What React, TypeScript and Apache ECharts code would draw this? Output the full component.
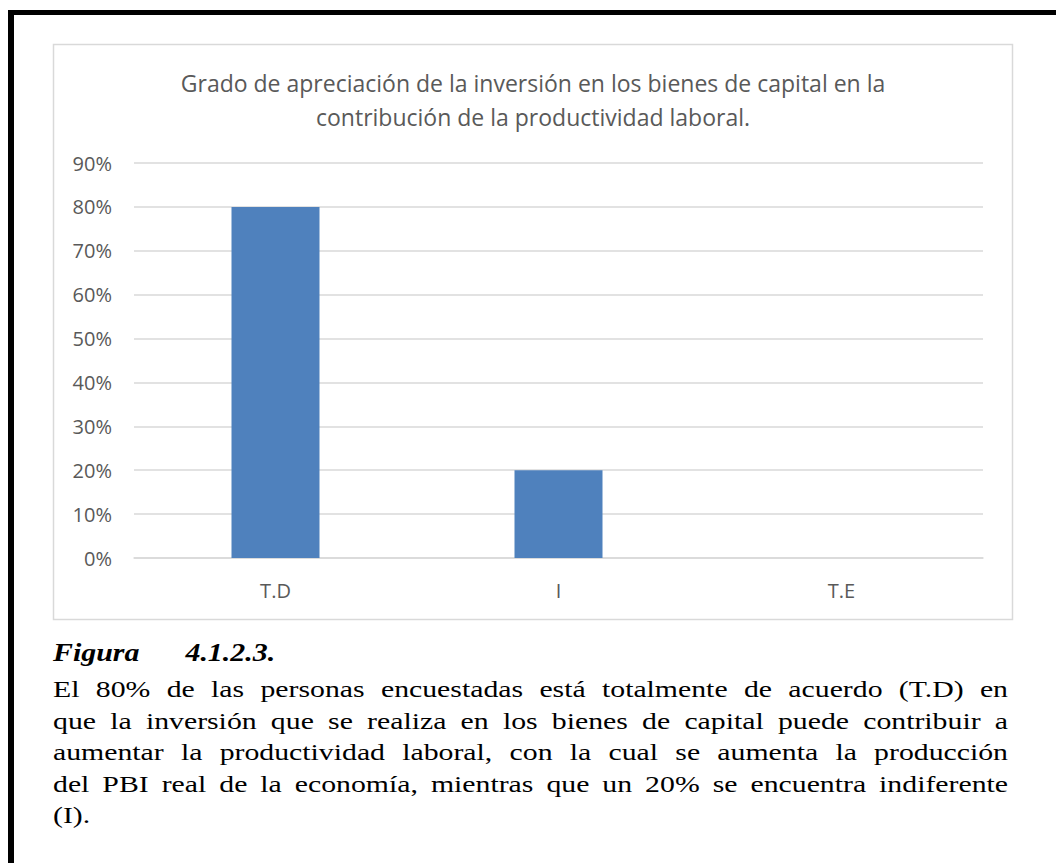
import React, { useEffect, useRef } from "react";
import * as echarts from "echarts";

const categories = ["T.D", "I", "T.E"];
const values = [0.8, 0.2, 0];
const titleLines = [
  "Grado de apreciación de la inversión en los bienes de capital en la",
  "contribución de la productividad laboral.",
];
const figureLabel = "Figura";
const figureNumber = "4.1.2.3.";
const captionLines = [
  "El 80% de las personas encuestadas está totalmente de acuerdo (T.D) en",
  "que la inversión que se realiza en los bienes de capital puede contribuir a",
  "aumentar la productividad laboral, con la cual se aumenta la producción",
  "del PBI real de la economía, mientras que un 20% se encuentra indiferente",
  "(I).",
];

const CAP_SCALE = 1.24;
const CAP_WIDTH = 955;

export default function App() {
  const ref = useRef<HTMLDivElement>(null);

  useEffect(() => {
    document.body.style.margin = "0";
    const chart = echarts.init(ref.current!, null, { renderer: "svg" });
    chart.setOption({
      animation: false,
      backgroundColor: "#ffffff",
      graphic: [
        { type: "rect", shape: { x: 8, y: 10, width: 1048, height: 5 }, style: { fill: "#000" } },
        { type: "rect", shape: { x: 8, y: 10, width: 6, height: 853 }, style: { fill: "#000" } },
        {
          type: "rect",
          shape: { x: 53.5, y: 44.5, width: 959, height: 575 },
          style: { fill: "none", stroke: "#d9d9d9", lineWidth: 1.5 },
        },
        {
          type: "text",
          x: 533,
          y: 83,
          style: {
            text: titleLines[0],
            textAlign: "center",
            textVerticalAlign: "middle",
            fill: "#595959",
            font: "23px 'Open Sans'",
          },
        },
        {
          type: "text",
          x: 533,
          y: 117,
          style: {
            text: titleLines[1],
            textAlign: "center",
            textVerticalAlign: "middle",
            fill: "#595959",
            font: "23px 'Open Sans'",
          },
        },
      ],
      grid: { left: 134, right: 73, top: 163, bottom: 305 },
      xAxis: {
        type: "category",
        data: categories,
        axisTick: { show: false },
        axisLine: { lineStyle: { color: "#d9d9d9", width: 1.5 } },
        axisLabel: { color: "#595959", fontSize: 20, fontFamily: "Open Sans", margin: 22 },
      },
      yAxis: {
        type: "value",
        min: 0,
        max: 0.9,
        interval: 0.1,
        axisLine: { show: false },
        axisTick: { show: false },
        splitLine: { lineStyle: { color: "#d9d9d9", width: 1.5 } },
        axisLabel: {
          color: "#595959",
          fontSize: 20,
          fontFamily: "Open Sans",
          margin: 22,
          formatter: (v: number) => Math.round(v * 100) + "%",
        },
      },
      series: [
        {
          type: "bar",
          data: values,
          barWidth: 88,
          itemStyle: { color: "#4F81BD" },
        },
      ],
    });
    return () => chart.dispose();
  }, []);

  return (
    <div style={{ position: "absolute", left: 0, top: 0, width: 1056, height: 863, overflow: "hidden" }}>
      <div ref={ref} style={{ position: "absolute", left: 0, top: 0, width: 1056, height: 863 }} />
      <div
        style={{
          position: "absolute",
          left: 53,
          top: 635,
          fontFamily: "'Liberation Serif', 'Times New Roman', serif",
          fontSize: 26,
          lineHeight: "36px",
          fontWeight: "bold",
          fontStyle: "italic",
          color: "#000",
          whiteSpace: "nowrap",
          transform: "scaleX(1.15)",
          transformOrigin: "0 0",
        }}
      >
        <span>{figureLabel}</span>
        <span style={{ marginLeft: 40 }}>{figureNumber}</span>
      </div>
      <div
        style={{
          position: "absolute",
          left: 53,
          top: 674,
          width: CAP_WIDTH / CAP_SCALE,
          fontFamily: "'Liberation Serif', 'Times New Roman', serif",
          fontSize: 24,
          lineHeight: "31.6px",
          color: "#000",
          transform: `scaleX(${CAP_SCALE})`,
          transformOrigin: "0 0",
        }}
      >
        {captionLines.map((line, i) => (
          <div
            key={i}
            style={{
              whiteSpace: "nowrap",
              textAlign: i < captionLines.length - 1 ? "justify" : "left",
              textAlignLast: i < captionLines.length - 1 ? "justify" : "left",
            }}
          >
            {line}
          </div>
        ))}
      </div>
    </div>
  );
}
